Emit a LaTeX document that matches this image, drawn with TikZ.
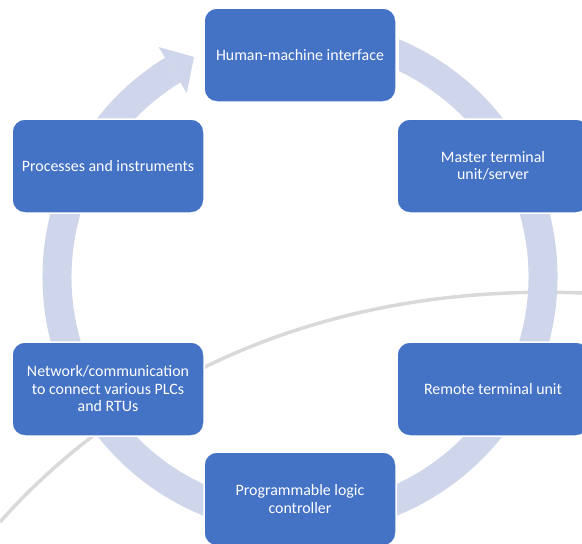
\documentclass[tikz,border=0pt]{standalone}
\usepackage{fontspec}
\setmainfont{Carlito}
\usetikzlibrary{calc}
\definecolor{boxblue}{HTML}{4472C4}
\definecolor{ringc}{HTML}{CFD5EA}
\begin{document}
\begin{tikzpicture}[x=1pt,y=-1pt,
  stage/.style={draw=white, line width=1.5pt, fill=boxblue, rounded corners=13pt,
    minimum width=192pt, minimum height=94pt, text=white, align=center,
    font=\fontsize{15.9}{17.5}\selectfont, inner sep=0pt},
  ringline/.style={draw=ringc, line width=29pt},
  wmark/.style={draw=gray!30, line width=3.5pt}]
\useasboundingbox (0,0) rectangle (582,544);
\coordinate (c) at (300,277);
% faint watermark arc
\coordinate (w1) at (0,522);
\coordinate (w2) at (582,293);
\draw[wmark] (w1) .. controls (110,398) and (300,282) .. (w2);
% cycle ring
\begin{scope}
  \clip (399,0) rectangle (582,300);
  \draw[ringline] ($(c)+(-75:243)$) arc[start angle=-75, end angle=-30, radius=243];
\end{scope}
\draw[ringline] ($(c)+(-31:243)$) arc[start angle=-31, end angle=238.4, radius=243];
\fill[ringc] ($(c)+(238.4:216)$) -- ($(c)+(238.4:270)$) -- ($(c)+(238.4:243)+(328.4:25)$) -- cycle;
% stages
\node[stage] (hmi) at (300,55) {Human-machine interface};
\node[stage] (mtu) at (493,166) {Master terminal\\unit/server};
\node[stage] (rtu) at (493,389) {Remote terminal unit};
\node[stage] (plc) at (300,499) {Programmable logic\\controller};
\node[stage] (net) at (108,389) {Network/communication\\to connect various PLCs\\and RTUs};
\node[stage] (pi) at (108,166) {Processes and instruments};
\end{tikzpicture}
\end{document}
